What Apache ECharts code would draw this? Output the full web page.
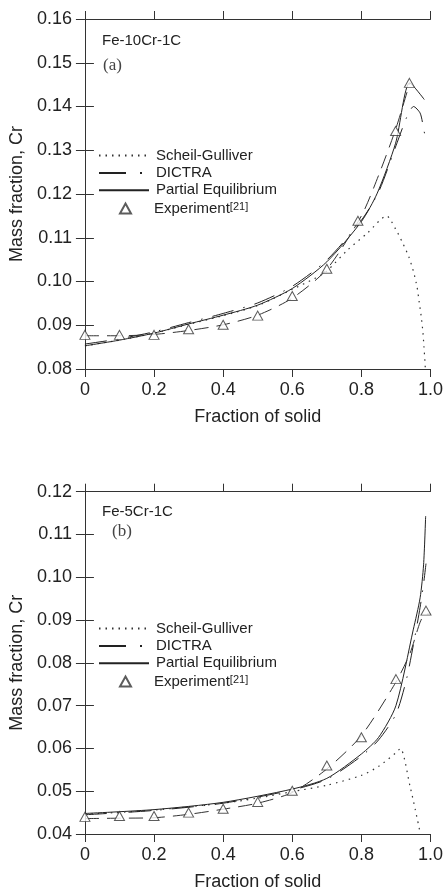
<!DOCTYPE html>
<html>
<head>
<meta charset="utf-8">
<script src="https://cdn.jsdelivr.net/npm/echarts@6/dist/echarts.min.js"></script>
<style>
  html, body { margin: 0; padding: 0; background: #fff; }
  #main { width: 446px; height: 892px; }
</style>
</head>
<body>
<div id="main"></div>
<script>
// ---- (a) Fe-10Cr-1C ----
var aScheilX = [0, 0.1, 0.2, 0.3, 0.4, 0.5, 0.6, 0.665, 0.7, 0.76, 0.818, 0.873, 0.899, 0.919, 0.937, 0.951, 0.961, 0.967, 0.973, 0.978, 0.981, 0.984, 0.985];
var aScheilY = [0.0853, 0.0866, 0.0882, 0.0902, 0.0922, 0.0945, 0.0982, 0.1007, 0.1024, 0.1072, 0.1111, 0.1150, 0.1120, 0.1089, 0.1057, 0.1022, 0.0988, 0.0955, 0.0921, 0.0885, 0.0852, 0.0817, 0.0802];
var aDictraX = [0, 0.1, 0.2, 0.3, 0.4, 0.5, 0.6, 0.7, 0.8, 0.85, 0.9, 0.932, 0.951, 0.97, 0.979, 0.987];
var aDictraY = [0.0857, 0.0869, 0.0885, 0.0906, 0.0927, 0.0951, 0.0989, 0.1049, 0.1140, 0.1205, 0.1310, 0.1377, 0.1400, 0.1385, 0.1354, 0.1320];
var aPartialX = [0, 0.1, 0.2, 0.3, 0.4, 0.5, 0.6, 0.7, 0.8, 0.846, 0.899, 0.94, 0.982];
var aPartialY = [0.0853, 0.0866, 0.0882, 0.0903, 0.0923, 0.0946, 0.0984, 0.1045, 0.1137, 0.1202, 0.1316, 0.1454, 0.1416];
var aExpX = [0, 0.1, 0.2, 0.3, 0.4, 0.5, 0.6, 0.7, 0.79, 0.899, 0.939];
var aExpY = [0.0878, 0.0878, 0.0878, 0.0891, 0.0901, 0.0922, 0.0967, 0.1029, 0.1139, 0.1344, 0.1454];
var aFitX = [0, 0.1, 0.2, 0.3, 0.4, 0.5, 0.6, 0.7, 0.8, 0.85, 0.9, 0.94];
var aFitY = [0.0876, 0.0876, 0.0879, 0.0888, 0.0901, 0.0923, 0.0962, 0.1028, 0.1150, 0.1243, 0.1350, 0.1454];

// ---- (b) Fe-5Cr-1C ----
var bScheilX = [0, 0.2, 0.4, 0.5, 0.6, 0.7, 0.8, 0.85, 0.9, 0.913, 0.941, 0.956, 0.968];
var bScheilY = [0.0446, 0.0456, 0.0472, 0.0484, 0.0499, 0.0514, 0.0537, 0.0558, 0.0590, 0.0600, 0.0511, 0.0457, 0.0411];
var bDictraX = [0, 0.2, 0.4, 0.6, 0.7, 0.8, 0.85, 0.9, 0.93, 0.95, 0.97, 0.98, 0.987];
var bDictraY = [0.0445, 0.0455, 0.0472, 0.0503, 0.0528, 0.0582, 0.0620, 0.0680, 0.0760, 0.0840, 0.0930, 0.0985, 0.1032];
var bPartialX = [0, 0.2, 0.4, 0.6, 0.7, 0.8, 0.85, 0.9, 0.95, 0.97, 0.98, 0.986];
var bPartialY = [0.0448, 0.0457, 0.0474, 0.0505, 0.0530, 0.0587, 0.0626, 0.0700, 0.0877, 0.0952, 0.1029, 0.1143];
var bExpX = [0, 0.1, 0.2, 0.3, 0.4, 0.5, 0.6, 0.7, 0.8, 0.9, 0.987];
var bExpY = [0.0440, 0.0442, 0.0442, 0.0450, 0.0459, 0.0475, 0.0501, 0.0560, 0.0626, 0.0762, 0.0922];
var bFitX = [0, 0.1, 0.2, 0.3, 0.4, 0.5, 0.6, 0.7, 0.8, 0.9, 0.941, 0.97, 0.985, 1.0];
var bFitY = [0.0436, 0.0437, 0.0438, 0.0446, 0.0458, 0.0472, 0.0497, 0.0552, 0.0630, 0.0755, 0.0823, 0.0895, 0.0914, 0.0914];

var xTicks = { min: 0, max: 1, interval: 0.2 };
var aRange = { min: 0.08, max: 0.16, interval: 0.01 };
var bRange = { min: 0.04, max: 0.12, interval: 0.01 };

function zip(xs, ys) {
    var d = [];
    for (var i = 0; i < xs.length; i++) d.push([xs[i], ys[i]]);
    return d;
}

var ink = '#222';
var font = 'Liberation Sans, Arial, sans-serif';
var dotted = [1.5, 5];
var dashDot = [22, 10, 1.5, 10];

function xAxes(gi) {
    var base = {
        type: 'value', gridIndex: gi, min: xTicks.min, max: xTicks.max, interval: xTicks.interval,
        splitLine: { show: false },
        axisLine: { lineStyle: { color: '#333', width: 1 } },
        axisTick: { length: 8, lineStyle: { color: '#333' } }
    };
    return [
        Object.assign({}, base, {
            position: 'bottom',
            name: 'Fraction of solid', nameLocation: 'middle', nameGap: 39,
            nameTextStyle: { fontFamily: font, fontSize: 18, color: ink },
            axisLabel: {
                margin: 12, fontFamily: font, fontSize: 18, color: ink,
                formatter: function (v) { return v === 0 ? '0' : v.toFixed(1); }
            }
        }),
        Object.assign({}, base, { position: 'top', axisLabel: { show: false } })
    ];
}

function yAxes(gi, r) {
    var base = {
        type: 'value', gridIndex: gi, min: r.min, max: r.max, interval: r.interval,
        splitLine: { show: false },
        axisLine: { show: true, lineStyle: { color: '#333', width: 1 } },
        axisTick: { show: true, length: 9, lineStyle: { color: '#333' } }
    };
    return [
        Object.assign({}, base, {
            position: 'left',
            name: 'Mass fraction, Cr', nameLocation: 'middle', nameGap: 56,
            nameTextStyle: { fontFamily: font, fontSize: 18, color: ink },
            axisLabel: {
                margin: 13, fontFamily: font, fontSize: 18, color: ink,
                formatter: function (v) { return v.toFixed(2); }
            }
        }),
        Object.assign({}, base, { position: 'right', axisLabel: { show: false } })
    ];
}

function seriesFor(gi, sch, dic, par, exp, fit) {
    var xi = gi * 2, yi = gi * 2;
    var common = { xAxisIndex: xi, yAxisIndex: yi, showSymbol: false, symbol: 'none', smooth: 0.25, z: 2 };
    return [
        Object.assign({}, common, {
            name: 'Scheil-Gulliver', type: 'line', data: sch,
            lineStyle: { color: '#333', width: 1.2, type: dotted }, itemStyle: { color: '#333' }
        }),
        Object.assign({}, common, {
            name: 'DICTRA', type: 'line', data: dic,
            lineStyle: { color: ink, width: 1, type: dashDot }, itemStyle: { color: ink }
        }),
        Object.assign({}, common, {
            name: 'Partial Equilibrium', type: 'line', data: par,
            lineStyle: { color: ink, width: 1 }, itemStyle: { color: ink }
        }),
        Object.assign({}, common, {
            name: 'fit', type: 'line', data: fit,
            lineStyle: { color: '#333', width: 1, type: [14, 8] }
        }),
        {
            name: 'Experiment', type: 'scatter', xAxisIndex: xi, yAxisIndex: yi, data: exp,
            symbol: 'triangle', symbolSize: [10, 9], z: 3,
            itemStyle: { color: '#fff', borderColor: '#333', borderWidth: 1 }
        }
    ];
}

var legendText = { fontFamily: font, fontSize: 15, color: ink, lineHeight: 15 };

function lineLegend(id, top) {
    return {
        id: id, orient: 'vertical', left: 98, top: top, padding: 0,
        itemWidth: 50, itemHeight: 12, itemGap: 2.4,
        itemStyle: { opacity: 0 },
        data: [
            { name: 'Scheil-Gulliver' },
            { name: 'DICTRA', lineStyle: { type: [27, 14, 2, 20] } },
            { name: 'Partial Equilibrium' }
        ],
        textStyle: Object.assign({}, legendText, { padding: [0, 0, 0, 2] }),
        selectedMode: false
    };
}

function expLegend(id, top) {
    return {
        id: id, orient: 'vertical', left: 119, top: top, padding: 0,
        itemWidth: 11, itemHeight: 10, itemGap: 0,
        data: ['Experiment'],
        textStyle: Object.assign({}, legendText, {
            padding: [0, 0, 0, 18],
            rich: { sup: { fontFamily: font, fontSize: 11, color: ink, verticalAlign: 'top', padding: [0, 0, 8, 0] } }
        }),
        formatter: 'Experiment{sup|[21]}',
        selectedMode: false
    };
}

var chart = echarts.init(document.getElementById('main'));

chart.setOption({
    animation: false,
    backgroundColor: '#fff',
    grid: [
        { left: 80.5, right: 15.5, top: 19, height: 350 },
        { left: 80.5, right: 15.5, top: 491.7, height: 350 }
    ],
    xAxis: xAxes(0).concat(xAxes(1)),
    yAxis: yAxes(0, aRange).concat(yAxes(1, bRange)),
    legend: [lineLegend('la', 148), expLegend('ea', 201), lineLegend('lb', 621), expLegend('eb', 674)],
    series: seriesFor(0, zip(aScheilX, aScheilY), zip(aDictraX, aDictraY), zip(aPartialX, aPartialY), zip(aExpX, aExpY), zip(aFitX, aFitY))
        .concat(seriesFor(1, zip(bScheilX, bScheilY), zip(bDictraX, bDictraY), zip(bPartialX, bPartialY), zip(bExpX, bExpY), zip(bFitX, bFitY))),
    graphic: [
        { type: 'text', left: 102, top: 33, style: { text: 'Fe-10Cr-1C', font: '15px ' + font, fill: ink } },
        { type: 'text', left: 103, top: 57, style: { text: '(a)', font: '17px Liberation Serif, Times New Roman, serif', fill: '#444' } },
        { type: 'text', left: 102, top: 504, style: { text: 'Fe-5Cr-1C', font: '15px ' + font, fill: ink } },
        { type: 'text', left: 112, top: 523, style: { text: '(b)', font: '17px Liberation Serif, Times New Roman, serif', fill: '#444' } }
    ]
});
</script>
</body>
</html>
